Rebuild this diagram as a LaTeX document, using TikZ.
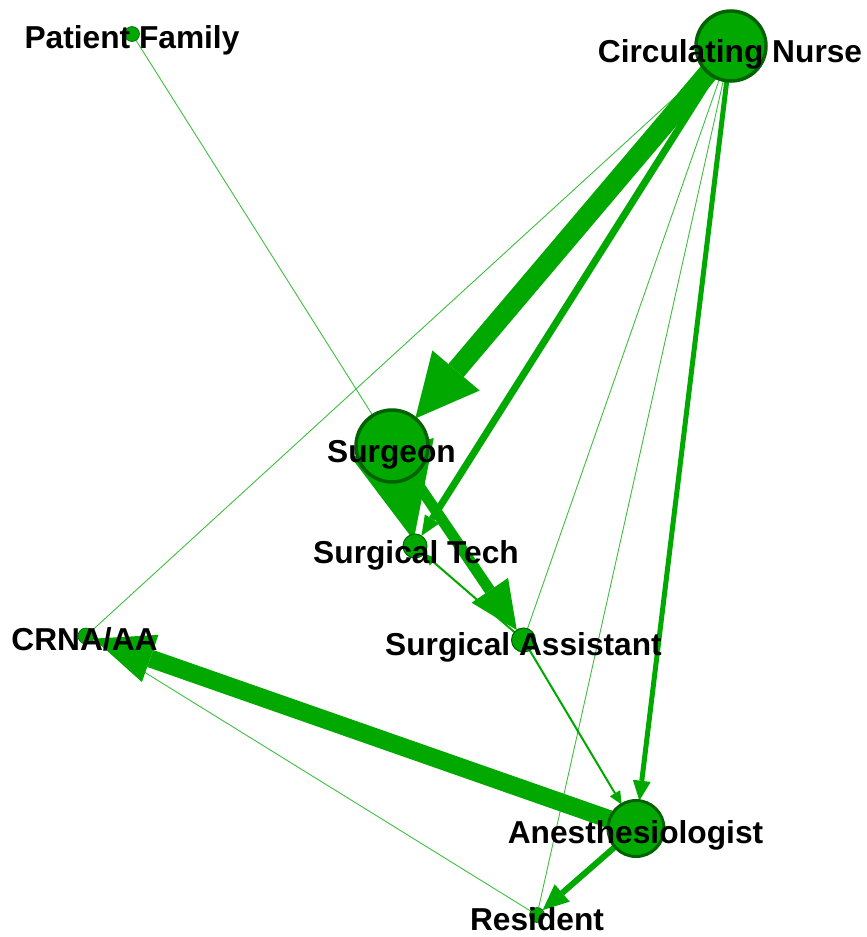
\documentclass[tikz,border=0pt]{standalone}
\usepackage{fontspec}
\setmainfont{Liberation Sans}
\usetikzlibrary{arrows.meta,backgrounds}
\definecolor{nodegreen}{RGB}{0,168,0}
\definecolor{rimgreen}{RGB}{0,98,0}
\begin{document}
\begin{tikzpicture}[x=1pt,y=-1pt,
  actor/.style={circle,fill=nodegreen,draw=rimgreen,inner sep=0pt,outer sep=0pt},
  tag/.style={anchor=base,font=\fontsize{31.7}{36}\selectfont\bfseries,text=black,inner sep=0pt},
  tie/.style={draw=nodegreen,line cap=butt},
  faint/.style={draw=nodegreen!75,line width=0.9pt},
  head/.style n args={2}{-{Triangle[length=#1,width=#2,line width=0pt]}}]
\useasboundingbox (0,0) rectangle (867,937);

% actors
\node[actor,minimum size=70pt,line width=3.5pt] (cn) at (731,46) {};
\node[actor,minimum size=15pt,line width=0.6pt] (pf) at (132,34) {};
\node[actor,minimum size=72pt,line width=3.5pt] (sg) at (392,446) {};
\node[actor,minimum size=24pt,line width=1pt] (st) at (415,546) {};
\node[actor,minimum size=24pt,line width=1pt] (sa) at (523.5,640) {};
\node[actor,minimum size=16pt,line width=0.6pt] (cr) at (86,636) {};
\node[actor,minimum size=56pt,line width=3pt] (an) at (636,828.5) {};
\node[actor,minimum size=15pt,line width=0.6pt] (rs) at (537,915) {};

% communication ties, drawn beneath the actors
\begin{scope}[on background layer]
  \draw[faint] (cn) -- (cr);
  \draw[faint] (cn) -- (sa);
  \draw[faint] (cn) -- (rs);
  \draw[faint] (pf) -- (sg);
  \draw[faint] (cr) -- (rs);
  \draw[tie,line width=20pt,head={63pt}{62pt}] (cn) -- (sg);
  \draw[tie,line width=7pt,head={20pt}{17pt}] (cn) -- (st);
  \draw[tie,line width=5pt,head={20pt}{18pt}] (cn) -- (an);
  \draw[tie,line width=15pt,head={95pt}{85pt},shorten >=-6pt] (sg) -- (st);
  \draw[tie,line width=11pt,head={48pt}{44pt}] (sg) -- (sa);
  \draw[tie,line width=2pt,head={12pt}{10pt}] (sa) -- (st);
  \draw[tie,line width=2pt,head={13pt}{12pt}] (sa) -- (an);
  \draw[tie,line width=18pt,head={60pt}{50pt}] (an) -- (cr);
  \draw[tie,line width=6pt,head={26pt}{23pt}] (an) -- (rs);
\end{scope}

% role labels
\node[tag] (cn-t) at (730,62) {Circulating Nurse};
\node[tag] (pf-t) at (132,48) {Patient Family};
\node[tag] (sg-t) at (391.5,462) {Surgeon};
\node[tag] (st-t) at (416,563) {Surgical Tech};
\node[tag] (sa-t) at (523.5,655) {Surgical Assistant};
\node[tag] (cr-t) at (84.5,650) {CRNA/AA};
\node[tag] (an-t) at (635.5,843) {Anesthesiologist};
\node[tag] (rs-t) at (537,930) {Resident};
\end{tikzpicture}
\end{document}
